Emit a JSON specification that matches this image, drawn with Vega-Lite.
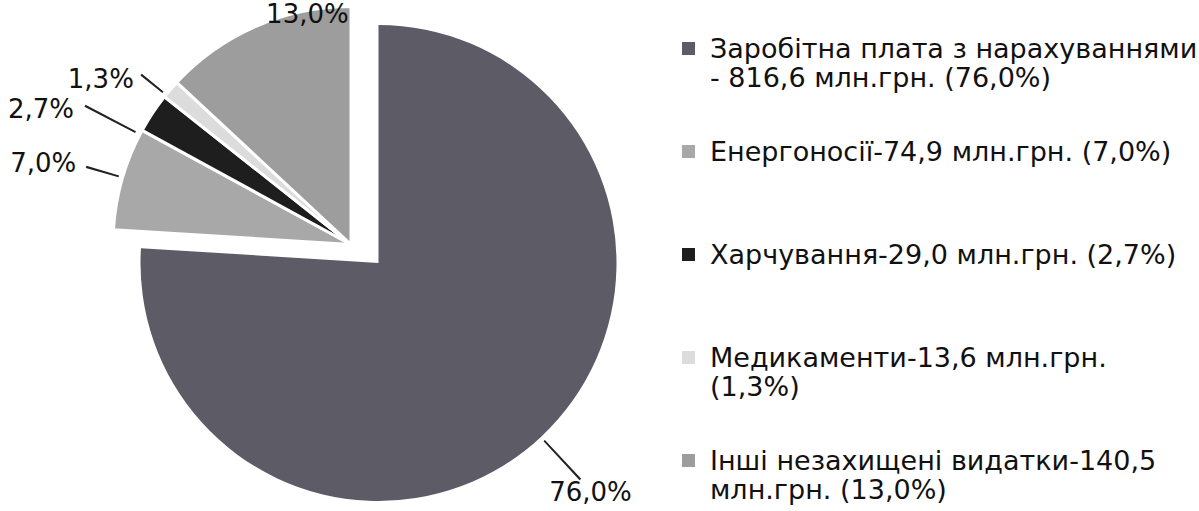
{
  "$schema": "https://vega.github.io/schema/vega-lite/v6.json",
  "width": 730,
  "height": 511,
  "padding": 0,
  "autosize": {"type": "pad"},
  "background": "white",
  "config": {
    "view": {"stroke": null},
    "text": {"font": "DejaVu Sans", "fontSize": 26, "color": "#111111"},
    "legend": {
      "orient": "none",
      "legendX": 675,
      "legendY": 34,
      "padding": 0,
      "symbolType": "square",
      "symbolSize": 169,
      "symbolStrokeWidth": 0,
      "labelFont": "DejaVu Sans",
      "labelFontSize": 27,
      "labelColor": "#111111",
      "labelLimit": 0,
      "labelOffset": 8,
      "rowPadding": 46,
      "labelBaseline": "alphabetic",
      "labelLineHeight": 34
    }
  },
  "data": {
    "values": [
      {"cat": "Заробітна плата з нарахуваннями\n- 816,6 млн.грн.  (76,0%)", "value": 816.6, "pct": "76,0%"},
      {"cat": "Енергоносії-74,9 млн.грн. (7,0%)", "value": 74.9, "pct": "7,0%"},
      {"cat": "Харчування-29,0 млн.грн. (2,7%)", "value": 29.0, "pct": "2,7%"},
      {"cat": "Медикаменти-13,6 млн.грн.\n(1,3%)", "value": 13.6, "pct": "1,3%"},
      {"cat": "Інші незахищені видатки-140,5\nмлн.грн. (13,0%)", "value": 140.5, "pct": "13,0%"}
    ]
  },
  "transform": [
    {"stack": "value", "groupby": [], "as": ["v0", "v1"]},
    {"calculate": "(datum.v0 + datum.v1) / 2", "as": "mid"}
  ],
  "layer": [
    {
      "transform": [{"filter": "datum.v0 == 0"}],
      "mark": {"type": "arc", "radius": 238, "xOffset": 13.5, "yOffset": 6.5},
      "encoding": {
        "theta": {"field": "v0", "type": "quantitative", "scale": {"domain": [0, 1074.6]}},
        "theta2": {"field": "v1"},
        "color": {
          "field": "cat",
          "type": "nominal",
          "scale": {
            "domain": [
              "Заробітна плата з нарахуваннями\n- 816,6 млн.грн.  (76,0%)",
              "Енергоносії-74,9 млн.грн. (7,0%)",
              "Харчування-29,0 млн.грн. (2,7%)",
              "Медикаменти-13,6 млн.грн.\n(1,3%)",
              "Інші незахищені видатки-140,5\nмлн.грн. (13,0%)"
            ],
            "range": ["#5d5b66", "#a8a8a8", "#1e1e1e", "#dcdcdc", "#9d9d9d"]
          },
          "legend": {
            "title": null,
            "labelExpr": "length(split(datum.label, '\\n')) > 1 ? split(datum.label, '\\n') : [datum.label, '']",
            "encode": {"labels": {"update": {"dy": {"value": 9}}}}
          }
        }
      }
    },
    {
      "transform": [{"filter": "datum.v0 > 0"}],
      "mark": {"type": "arc", "radius": 238, "xOffset": -14, "yOffset": -12, "stroke": "white", "strokeWidth": 3},
      "encoding": {
        "theta": {"field": "v0", "type": "quantitative", "scale": {"domain": [0, 1074.6]}},
        "theta2": {"field": "v1"},
        "color": {"field": "cat", "type": "nominal"}
      }
    },
    {
      "transform": [{"filter": "datum.pct == '76,0%'"}],
      "mark": {"type": "arc", "radius": 296, "radius2": 243, "xOffset": 13.5, "yOffset": 6.5, "thetaOffset": 0, "theta2Offset": 0.0075, "fill": "#222222"},
      "encoding": {
        "theta": {"field": "mid", "type": "quantitative", "scale": {"domain": [0, 1074.6]}},
        "theta2": {"field": "mid"}
      }
    },
    {
      "transform": [{"filter": "datum.pct == '7,0%'"}],
      "mark": {"type": "arc", "radius": 276, "radius2": 242, "xOffset": -14, "yOffset": -12, "thetaOffset": 0, "theta2Offset": 0.008, "fill": "#222222"},
      "encoding": {
        "theta": {"field": "mid", "type": "quantitative", "scale": {"domain": [0, 1074.6]}},
        "theta2": {"field": "mid"}
      }
    },
    {
      "transform": [{"filter": "datum.pct == '2,7%'"}],
      "mark": {"type": "arc", "radius": 300, "radius2": 243, "xOffset": -14, "yOffset": -12, "thetaOffset": -0.108, "theta2Offset": -0.1005, "fill": "#222222"},
      "encoding": {
        "theta": {"field": "mid", "type": "quantitative", "scale": {"domain": [0, 1074.6]}},
        "theta2": {"field": "mid"}
      }
    },
    {
      "transform": [{"filter": "datum.pct == '1,3%'"}],
      "mark": {"type": "arc", "radius": 270, "radius2": 242, "xOffset": -14, "yOffset": -12, "thetaOffset": -0.033, "theta2Offset": -0.025, "fill": "#222222"},
      "encoding": {
        "theta": {"field": "mid", "type": "quantitative", "scale": {"domain": [0, 1074.6]}},
        "theta2": {"field": "mid"}
      }
    },
    {
      "transform": [{"filter": "datum.pct == '76,0%'"}],
      "mark": {"type": "text", "radius": 322, "dx": 5, "dy": 2, "align": "center", "baseline": "middle"},
      "encoding": {
        "theta": {"field": "mid", "type": "quantitative", "scale": {"domain": [0, 1074.6]}},
        "text": {"field": "pct"}
      }
    },
    {
      "transform": [{"filter": "datum.pct == '7,0%'"}],
      "mark": {"type": "text", "radius": 335, "dx": 0, "dy": 0, "align": "center", "baseline": "middle"},
      "encoding": {
        "theta": {"field": "mid", "type": "quantitative", "scale": {"domain": [0, 1074.6]}},
        "text": {"field": "pct"}
      }
    },
    {
      "transform": [{"filter": "datum.pct == '2,7%'"}],
      "mark": {"type": "text", "radius": 355, "dx": -28, "dy": 50, "align": "center", "baseline": "middle"},
      "encoding": {
        "theta": {"field": "mid", "type": "quantitative", "scale": {"domain": [0, 1074.6]}},
        "text": {"field": "pct"}
      }
    },
    {
      "transform": [{"filter": "datum.pct == '1,3%'"}],
      "mark": {"type": "text", "radius": 310, "dx": -29, "dy": 25, "align": "center", "baseline": "middle"},
      "encoding": {
        "theta": {"field": "mid", "type": "quantitative", "scale": {"domain": [0, 1074.6]}},
        "text": {"field": "pct"}
      }
    },
    {
      "transform": [{"filter": "datum.pct == '13,0%'"}],
      "mark": {"type": "text", "radius": 262, "dx": 47, "dy": -1, "align": "center", "baseline": "middle"},
      "encoding": {
        "theta": {"field": "mid", "type": "quantitative", "scale": {"domain": [0, 1074.6]}},
        "text": {"field": "pct"}
      }
    }
  ]
}
